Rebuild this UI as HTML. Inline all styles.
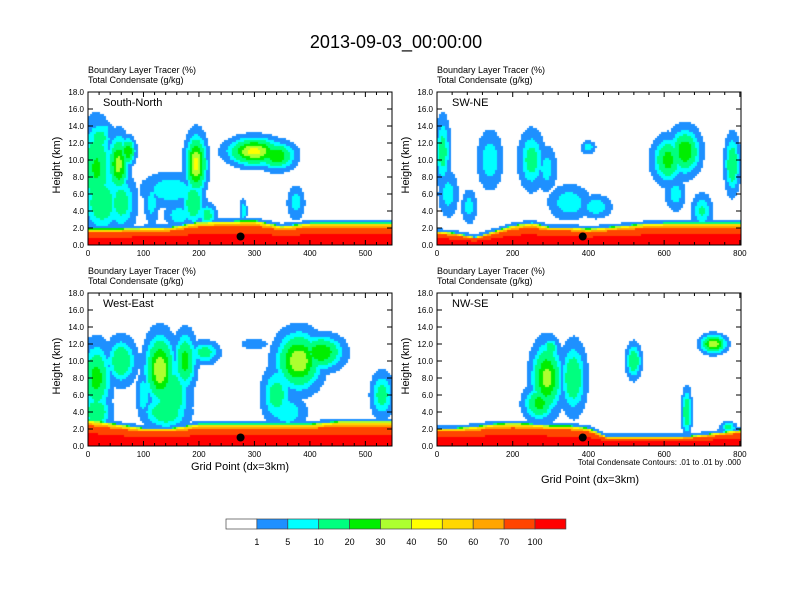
<!DOCTYPE html>
<html><head><meta charset="utf-8"><style>
body{margin:0;background:#fff;font-family:"Liberation Sans",sans-serif}
#root{position:relative;width:792px;height:612px;overflow:hidden}
.t{position:absolute;white-space:nowrap;color:#000}
canvas{position:absolute}
</style></head><body>
<div id="root">
<div class="t" style="left:0;width:792px;text-align:center;top:32px;font-size:18px">2013-09-03_00:00:00</div>
<svg id="ov" width="792" height="612" style="position:absolute;left:0;top:0"></svg>
</div>
<script>
// ---- data ----
const panelNames = ["South-North","SW-NE","West-East","NW-SE"];
const xMax = [548, 803, 548, 803];
const xTickStep = [100, 200, 100, 200];
const yTicks = [0,2,4,6,8,10,12,14,16,18];
const levels = [1,5,10,20,30,40,50,60,70,100];
const colors = ["#ffffff","#1e90ff","#00ffff","#00ff7f","#00ee00","#adff2f","#ffff00","#ffd700","#ffa500","#ff4500","#ff0000"];
const pblSN = [1.9,1.9,2.0,2.1,2.7,2.8,2.9,2.2,2.6,2.6,2.6,2.6];
const pblSWNE = [1.6,1.4,0.9,1.6,2.3,2.6,2.1,2.1,1.9,2.1,2.3,2.5,2.6,2.6,2.6,2.6,2.6];
const pblWE = [3.1,2.6,2.1,2.1,2.6,2.6,2.6,2.6,2.6,2.9,2.9,2.9];
const pblNWSE = [2.1,2.1,2.3,2.6,2.7,2.6,2.4,2.4,2.1,1.1,1.1,1.1,1.1,1.1,1.3,1.6,1.9];
// blobs: [gridX, heightKm, halfWidthGP, halfHeightKm, peak%]
const cloudsSN = [[15,9,22,4,22],[25,5,25,2.5,20],[20,12.5,18,1.5,15],[55,9.5,14,2.5,35],[72,11,10,1.2,30],[60,5,20,2.5,15],[115,5,10,2,8],[150,6.5,40,1.5,10],[165,3.5,20,1,10],[195,9.5,14,2.5,45],[190,5,15,2,20],[215,3.5,12,1,15],[300,11,35,1.2,45],[340,10.5,25,1.2,30],[375,5,12,1.5,8],[280,4,5,1,10],[30,13.5,12,0.8,8]];
const cloudsSWNE = [[15,11,15,3,15],[30,6,20,2,8],[85,4.5,15,1.5,8],[140,10,25,2.5,10],[250,10,25,2.5,15],[290,9,20,2,8],[350,5,40,1.5,10],[420,4.5,30,1,10],[400,11.5,15,0.6,8],[610,10,30,2,25],[655,11,30,2,30],[780,9.5,15,2.5,20],[700,4,20,1.5,12],[630,6,20,1.5,8]];
const cloudsWE = [[15,8,20,3,25],[15,4,20,1.5,20],[60,10,20,2,20],[130,9,20,3,40],[150,6,25,3,20],[175,10,15,2.5,25],[210,11,20,1,15],[380,10,30,2.5,40],[420,11,30,1.5,30],[340,6,20,2.5,15],[360,4,25,1.5,10],[530,6,15,2,15],[300,12,20,0.5,5],[140,4,30,1.5,20],[100,6,10,2,10]];
const cloudsNWSE = [[290,8,30,3,35],[270,5,30,1.5,25],[360,8,25,3,20],[520,10,15,1.5,20],[730,12,25,0.8,40],[660,4,10,2,20],[770,2.2,15,0.5,15],[300,11.5,15,0.8,20]];
const pbls = [pblSN,pblSWNE,pblWE,pblNWSE];
const clouds = [cloudsSN,cloudsSWNE,cloudsWE,cloudsNWSE];
const markerX = [275,385,275,385];
const markerH = [1.0,1.0,1.0,1.0];
// ---- layout ----
const boxes=[[88,92],[437,92],[88,293],[437,293]], W=304, H=153;
const root=document.getElementById('root'), ov=document.getElementById('ov');
const NS='http://www.w3.org/2000/svg';
function svgEl(tag,attrs){const e=document.createElementNS(NS,tag);for(const k in attrs)e.setAttribute(k,attrs[k]);ov.appendChild(e);return e;}
function txt(s,x,y,size,anchor,name,rot){const e=svgEl('text',{x:x,y:y,'font-size':size,'text-anchor':anchor||'start','font-family':'Liberation Sans, sans-serif'});if(rot)e.setAttribute('transform',`rotate(-90 ${x} ${y})`);e.textContent=s;return e;}
function colorFor(v){let i=0;while(i<levels.length&&v>=levels[i])i++;return colors[i];}
for(let p=0;p<4;p++){
  const [L,T]=boxes[p];
  const sx=g=>L+g/xMax[p]*W, sy=h=>T+H-h/18*H;
  const cv=document.createElement('canvas');cv.width=W;cv.height=H;cv.style.left=L+'px';cv.style.top=T+'px';
  
  
  root.insertBefore(cv,ov);
  const c=cv.getContext('2d');c.fillStyle='#fff';c.fillRect(0,0,W,H);
  const cw=2,ch=2;
  for(let px=0;px<W;px+=cw){
    const g=(px+1)/W*xMax[p];
    const fi=g/50, i0=Math.min(Math.floor(fi),pbls[p].length-2), f=fi-i0;
    const pbl=pbls[p][i0]*(1-f)+pbls[p][i0+1]*f;
    for(let py=0;py<H;py+=ch){
      const h=(H-py-1)/H*18;
      let v=0;
      if(h<pbl){v=130*Math.pow(1-h/pbl,0.4);} else if(h<pbl+0.35){v=3;}
      for(const b of clouds[p]){const dx=(g-b[0])/b[2],dh=(h-b[1])/b[3];const cvv=b[4]*Math.exp(-1.1*(dx*dx+dh*dh));if(cvv>v)v=cvv;}
      c.fillStyle=colorFor(v);c.fillRect(px,py,cw,ch);
    }
  }
  const m=svgEl('circle',{cx:sx(markerX[p]),cy:sy(markerH[p]),r:4,fill:'#000'});
  
  const fr=svgEl('rect',{x:L,y:T,width:W,height:H,fill:'none',stroke:'#000','stroke-width':1});
  
  for(const yt of yTicks){const y=sy(yt);svgEl('line',{x1:L,x2:L+5,y1:y,y2:y,stroke:'#000'});svgEl('line',{x1:L+W,x2:L+W-5,y1:y,y2:y,stroke:'#000'});txt(yt.toFixed(1),L-4,y+3,8,'end','y-tick-label');}
  for(let g=0;g<=xMax[p];g+=xTickStep[p]/5){const x=sx(g),maj=g%xTickStep[p]===0;const len=maj?5:3;svgEl('line',{x1:x,x2:x,y1:T+H,y2:T+H-len,stroke:'#000'});svgEl('line',{x1:x,x2:x,y1:T,y2:T+len,stroke:'#000'});if(maj)txt(String(g),x,T+H+11,8,'middle','x-tick-label');}
  txt(panelNames[p],L+15,T+14,11,'start','panel-label');
  txt('Boundary Layer Tracer   (%)',L,T-19,9,'start','field-title-tracer');
  txt('Total Condensate   (g/kg)',L,T-9,9,'start','field-title-condensate');
  txt('Height (km)',L-28,T+H/2+25,11,'start','y-axis-title',true);
}
txt('Grid Point (dx=3km)',240,470,11,'middle','x-axis-title-left');
txt('Grid Point (dx=3km)',590,483,11,'middle','x-axis-title-right');
txt('Total Condensate Contours: .01 to .01 by .000',741,465,8,'end','contour-note');
for(let i=0;i<colors.length;i++){const r=svgEl('rect',{x:226+i*30.9,y:519,width:30.9,height:10,fill:colors[i],stroke:'#444','stroke-width':0.7});}
levels.forEach((l,i)=>txt(String(l),226+(i+1)*30.9,545,9,'middle','colorbar-label'));
</script>
</body></html>
